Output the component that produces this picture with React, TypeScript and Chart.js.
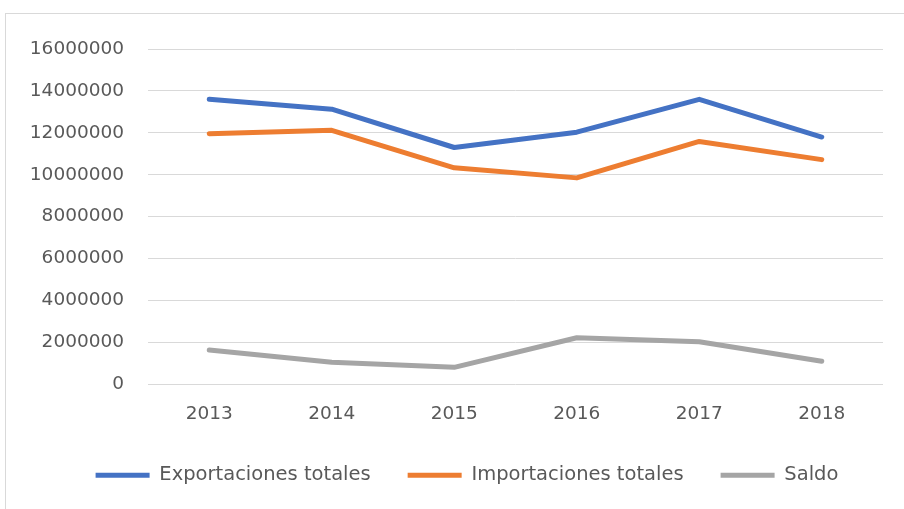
import React, { useEffect, useRef } from "react";
import { Chart, registerables } from "chart.js";

Chart.register(...registerables);

const years = ["2013", "2014", "2015", "2016", "2017", "2018"];
const exportaciones = [13600000, 13130000, 11300000, 12030000, 13600000, 11800000];
const importaciones = [11960000, 12120000, 10330000, 9850000, 11590000, 10720000];
const saldo = [1640000, 1050000, 810000, 2220000, 2030000, 1100000];
const seriesNames = ["Exportaciones totales", "Importaciones totales", "Saldo"];
const seriesColors = ["#4472C4", "#ED7D31", "#A5A5A5"];
const yMin = 0;
const yMax = 16000000;
const yStep = 2000000;

const FONT = "'DejaVu Sans', sans-serif";

const legendShift = {
  id: "legendShift",
  afterLayout(chart: any) {
    const lg = chart.legend;
    if (!lg) return;
    const dx = 11;
    const dy = -16;
    lg.left += dx;
    lg.right += dx;
    lg.top += dy;
    lg.bottom += dy;
  },
};

export default function App() {
  const ref = useRef<HTMLCanvasElement>(null);

  useEffect(() => {
    if (!ref.current) return;
    const values = [exportaciones, importaciones, saldo];
    const chart = new Chart(ref.current, {
      type: "line",
      data: {
        labels: years,
        datasets: values.map((v, i) => ({
          label: seriesNames[i],
          data: v,
          borderColor: seriesColors[i],
          backgroundColor: seriesColors[i],
          borderWidth: 5,
          borderCapStyle: "round" as const,
          borderJoinStyle: "round" as const,
          pointRadius: 0,
          pointHoverRadius: 0,
          tension: 0,
          fill: false,
        })),
      },
      plugins: [legendShift],
      options: {
        animation: false,
        responsive: false,
        devicePixelRatio: 1,
        layout: { padding: { left: 24, right: 46, top: 36, bottom: 22 } },
        plugins: {
          tooltip: { enabled: false },
          title: { display: false },
          legend: {
            position: "bottom",
            labels: {
              usePointStyle: true,
              pointStyle: "line",
              pointStyleWidth: 54,
              boxHeight: 18,
              padding: 37,
              color: "#595959",
              font: { family: FONT, size: 19.5 },
            },
          },
        },
        scales: {
          x: {
            offset: true,
            grid: { display: false, drawTicks: false, offset: true },
            border: { display: false },
            ticks: {
              color: "#595959",
              font: { family: FONT, size: 18.5 },
              padding: 19,
              maxRotation: 0,
            },
          },
          y: {
            min: yMin,
            max: yMax,
            grid: { color: "#D9D9D9", lineWidth: 1, drawTicks: false },
            border: { display: false },
            afterFit: (scale: any) => {
              scale.width = 119;
            },
            ticks: {
              stepSize: yStep,
              color: "#595959",
              font: { family: FONT, size: 18.5 },
              padding: 24,
              callback: (v: any) => String(v),
            },
          },
        },
      },
    });
    return () => chart.destroy();
  }, []);

  return (
    <div
      style={{
        position: "fixed",
        left: 0,
        top: 0,
        width: 904,
        height: 509,
        overflow: "hidden",
        background: "#ffffff",
      }}
    >
      <div
        style={{
          position: "absolute",
          left: 5,
          top: 13,
          width: 960,
          height: 600,
          border: "1px solid #D9D9D9",
          boxSizing: "border-box",
        }}
      />
      <canvas
        ref={ref}
        width={924}
        height={520}
        style={{ position: "absolute", left: 5, top: 13, width: 924, height: 520 }}
      />
    </div>
  );
}
